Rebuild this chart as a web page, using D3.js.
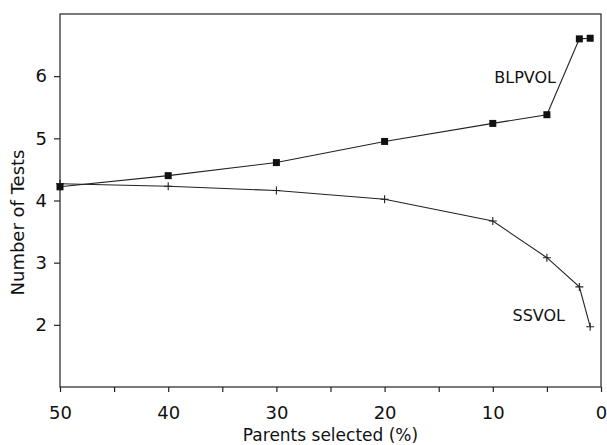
<!DOCTYPE html>
<html>
<head>
<meta charset="utf-8">
<script src="https://cdn.jsdelivr.net/npm/d3@7/dist/d3.min.js"></script>
<style>
  html, body { margin: 0; padding: 0; background: #fff; }
  svg text { font-family: "DejaVu Sans", "Liberation Sans", sans-serif; fill: #111; }
</style>
</head>
<body>
<svg id="chart" width="607" height="445"></svg>
<script>
/* Number of tests vs. share of parents selected, two schemes */

const PARENTS = [50, 40, 30, 20, 10, 5, 2, 1];
const BLPVOL = [4.22, 4.40, 4.61, 4.95, 5.24, 5.38, 6.60, 6.61];
const SSVOL = [4.27, 4.23, 4.16, 4.02, 3.67, 3.08, 2.61, 1.97];

const X_TICKS = [50, 45, 40, 35, 30, 25, 20, 15, 10, 5, 0];
const X_LABELS = [50, 40, 30, 20, 10, 0];
const Y_TICKS = [2, 3, 4, 5, 6];

const svg = d3.select("#chart");
const plotLeft = 60, plotRight = 601, plotTop = 14, plotBottom = 387;

const x = d3.scaleLinear().domain([50, 0]).range([plotLeft, plotRight]);
const y = d3.scaleLinear().domain([1, 7]).range([plotBottom, plotTop]);

const ink = "#222";

// frame
svg.append("rect")
  .attr("x", plotLeft).attr("y", plotTop)
  .attr("width", plotRight - plotLeft).attr("height", plotBottom - plotTop)
  .attr("fill", "none").attr("stroke", ink).attr("stroke-width", 1.2);

// x axis
const xAxis = svg.append("g")
  .attr("transform", `translate(0,${plotBottom})`)
  .call(d3.axisBottom(x).tickValues(X_TICKS).tickSize(5)
    .tickFormat((d) => (X_LABELS.includes(d) ? d : "")));
xAxis.select(".domain").remove();
xAxis.selectAll(".tick line").attr("stroke", ink).attr("stroke-width", 1.2);
xAxis.selectAll(".tick text")
  .attr("dy", null).attr("y", 32)
  .style("font-size", "18px").attr("fill", "#111");

// y axis
const yAxis = svg.append("g")
  .attr("transform", `translate(${plotLeft},0)`)
  .call(d3.axisLeft(y).tickValues(Y_TICKS).tickSize(6).tickFormat(d3.format("d")));
yAxis.select(".domain").remove();
yAxis.selectAll(".tick line").attr("stroke", ink).attr("stroke-width", 1.2);
yAxis.selectAll(".tick text")
  .attr("x", -13)
  .style("font-size", "18px").attr("fill", "#111");

// axis titles
svg.append("text")
  .attr("x", (plotLeft + plotRight) / 2).attr("y", 441)
  .attr("text-anchor", "middle")
  .style("font-size", "17px")
  .text("Parents selected (%)");

svg.append("text")
  .attr("transform", `translate(24,${(plotTop + plotBottom) / 2 + 22}) rotate(-90)`)
  .attr("text-anchor", "middle")
  .style("font-size", "18px")
  .text("Number of Tests");

const line = d3.line()
  .x((d) => x(d[0]))
  .y((d) => y(d[1]));

const blp = PARENTS.map((p, i) => [p, BLPVOL[i]]);
const ss = PARENTS.map((p, i) => [p, SSVOL[i]]);

svg.append("path").datum(ss)
  .attr("d", line).attr("fill", "none")
  .attr("stroke", ink).attr("stroke-width", 1.1);

svg.append("path").datum(blp)
  .attr("d", line).attr("fill", "none")
  .attr("stroke", ink).attr("stroke-width", 1.1);

// markers
svg.append("g").selectAll("path")
  .data(ss)
  .join("path")
  .attr("transform", (d) => `translate(${x(d[0])},${y(d[1])})`)
  .attr("d", "M-4,0H4M0,-4V4")
  .attr("stroke", ink).attr("stroke-width", 1.1);

svg.append("g").selectAll("rect")
  .data(blp)
  .join("rect")
  .attr("x", (d) => x(d[0]) - 3.5)
  .attr("y", (d) => y(d[1]) - 3.5)
  .attr("width", 7).attr("height", 7)
  .attr("fill", "#111");

// series labels
svg.append("text")
  .attr("x", 556).attr("y", 83)
  .attr("text-anchor", "end")
  .style("font-size", "16px")
  .text("BLPVOL");

svg.append("text")
  .attr("x", 565).attr("y", 321)
  .attr("text-anchor", "end")
  .style("font-size", "16px")
  .text("SSVOL");
</script>
</body>
</html>
